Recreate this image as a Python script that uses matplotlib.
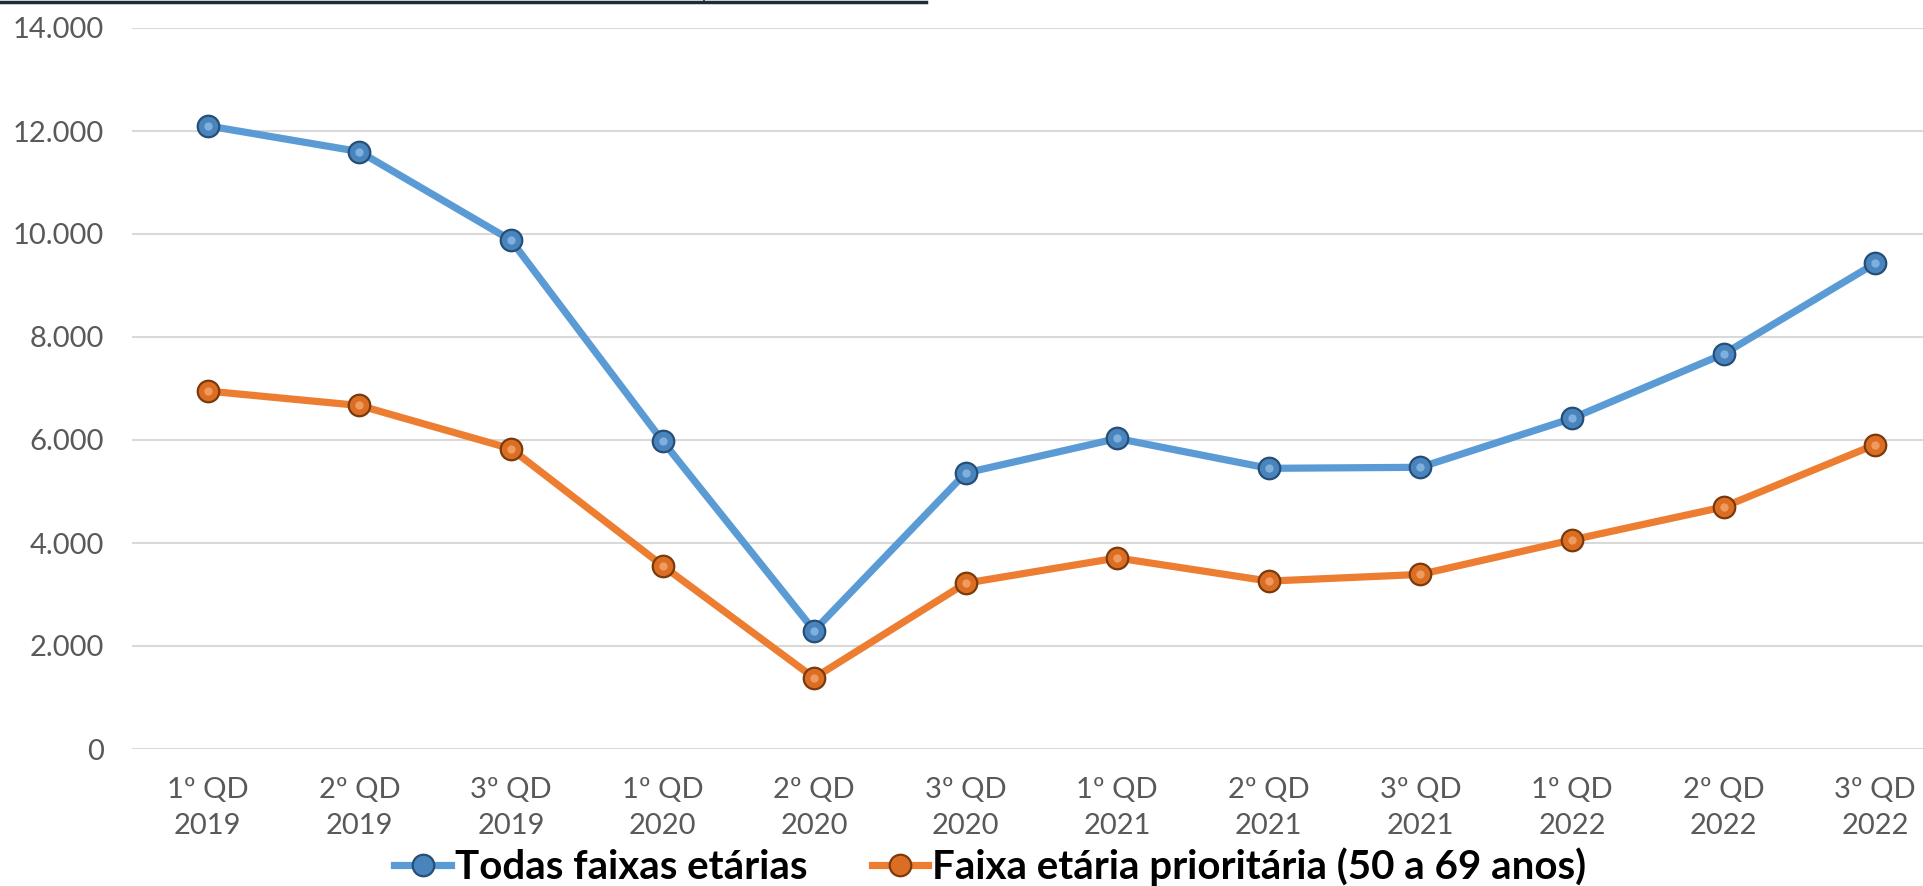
import matplotlib
matplotlib.use("Agg")
import matplotlib.pyplot as plt
from matplotlib.lines import Line2D
from matplotlib.ticker import FuncFormatter

categories = ["1º QD\n2019", "2º QD\n2019", "3º QD\n2019",
              "1º QD\n2020", "2º QD\n2020", "3º QD\n2020",
              "1º QD\n2021", "2º QD\n2021", "3º QD\n2021",
              "1º QD\n2022", "2º QD\n2022", "3º QD\n2022"]
todas = [12100, 11600, 9880, 5980, 2300, 5360, 6030, 5450, 5470, 6420, 7670, 9430]
prioritaria = [6950, 6670, 5830, 3560, 1380, 3220, 3710, 3260, 3390, 4060, 4700, 5910]
series_names = ["Todas faixas etárias", "Faixa etária prioritária (50 a 69 anos)"]
yticks = [0, 2000, 4000, 6000, 8000, 10000, 12000, 14000]

plt.rcParams['font.family'] = ['Lato', 'DejaVu Sans']

W, H = 1923, 886
fig = plt.figure(figsize=(W/100, H/100), dpi=100)
left, right = 132, 1951
top, bottom = 28, 749
ax = fig.add_axes([left/W, 1-bottom/H, (right-left)/W, (bottom-top)/H])

LW, MS = 5.2, 15.5
x = list(range(len(categories)))
ax.plot(x, todas, color='#5B9BD5', lw=LW, marker='o', ms=MS,
        mfc='#4A84BD', mec='#264F78', mew=1.6, label=series_names[0], zorder=3)
ax.plot(x, prioritaria, color='#ED7D31', lw=LW, marker='o', ms=MS,
        mfc='#DB6E22', mec='#7A3A0C', mew=1.6, label=series_names[1], zorder=3)
# sphere highlights
ax.plot(x, todas, ls='none', marker='o', ms=6, mfc='#8DBBE6', mec='none', zorder=4, alpha=0.8)
ax.plot(x, prioritaria, ls='none', marker='o', ms=6, mfc='#F5A66E', mec='none', zorder=4, alpha=0.8)

ax.set_xlim(-0.5, 11.5)
ax.set_ylim(0, 14000)
ax.set_yticks(yticks)
ax.yaxis.set_major_formatter(FuncFormatter(lambda v, p: f"{int(v):,}".replace(",", ".")))
ax.set_xticks(x)
ax.set_xticklabels(categories, linespacing=1.5)
ax.tick_params(axis='both', length=0, labelsize=21, colors='#595959')
ax.tick_params(axis='y', pad=20)
ax.tick_params(axis='x', pad=20)
ax.grid(axis='y', color='#D9D9D9', lw=1.5)
for s in ax.spines.values():
    s.set_visible(False)
ax.set_axisbelow(True)

h1 = Line2D([], [], color='#5B9BD5', lw=LW, marker='o', ms=MS, mfc='#4A84BD', mec='#264F78', mew=1.6)
h2 = Line2D([], [], color='#ED7D31', lw=LW, marker='o', ms=MS, mfc='#DB6E22', mec='#7A3A0C', mew=1.6)
leg = fig.legend([h1, h2], series_names, loc='center', bbox_to_anchor=(0.515, 0.022),
                 ncol=2, frameon=False, handlelength=1.4, handletextpad=0.1, columnspacing=1.6,
                 prop={'family': ['Lato', 'DejaVu Sans'], 'weight': 'bold', 'size': 29})

# border line at top (cropped table edge)
fig.add_artist(Line2D([0, 926/W], [1-1.5/H, 1-1.5/H], color='#1F2A3A', lw=2.5, transform=fig.transFigure))
fig.add_artist(Line2D([704/W, 704/W], [1-1.5/H, 1.0], color='#1F2A3A', lw=1.2, transform=fig.transFigure))

fig.savefig("out.png", dpi=100)
